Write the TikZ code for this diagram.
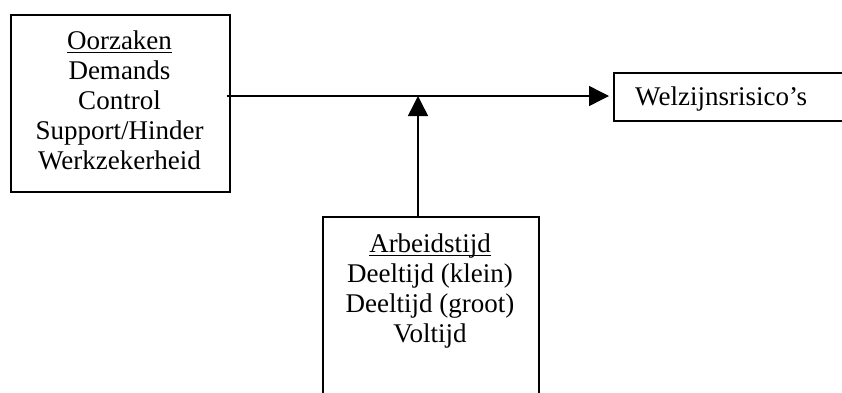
\documentclass[tikz,border=0pt]{standalone}
\usepackage{fontspec}
\setmainfont{Liberation Serif}
\usetikzlibrary{arrows.meta}
% heading underline: fixed depth below the baseline, fixed thickness
\newcommand\headul[1]{\setbox0\hbox{#1}\rlap{\rule[-3.5pt]{\wd0}{1.4pt}}\box0}
\begin{document}
\begin{tikzpicture}[x=1pt,y=-1pt,
  box/.style={draw,line width=1.5pt,rectangle,inner sep=0pt,anchor=north west},
  label/.style={inner sep=0pt,align=center,font=\fontsize{27}{30}\selectfont},
  arr/.style={line width=1.5pt,-{Triangle[length=20pt,width=20pt]}}]
  \useasboundingbox (0,0) rectangle (842,392);
  \clip (0,0) rectangle (842,392);
  % causes box (upper left)
  \node[box,minimum width=219pt,minimum height=177pt] (oz) at (10,14) {};
  \node[label,anchor=north] (oztext) at (119.5,30.5)
    {\headul{Oorzaken}\\Demands\\Control\\Support/Hinder\\Werkzekerheid};
  % outcome box, runs off the right edge
  \node[box,minimum width=260pt,minimum height=48pt] (wz) at (613,72) {};
  \node[label,anchor=base west] (wztext) at (635,105) {Welzijnsrisico’s};
  % working time box, runs off the bottom edge
  \node[box,minimum width=216pt,minimum height=220pt] (ab) at (322,216) {};
  \node[label,anchor=north] (abtext) at (430,233.5)
    {\headul{Arbeidstijd}\\Deeltijd (klein)\\Deeltijd (groot)\\Voltijd};
  % main arrow and moderating arrow
  \coordinate (j) at (418,96);
  \draw[arr] ([xshift=-4pt]oz.east |- j) -- ([xshift=-4pt]wz.west |- j);
  \draw[arr] (ab.north -| j) -- (j);
\end{tikzpicture}
\end{document}
